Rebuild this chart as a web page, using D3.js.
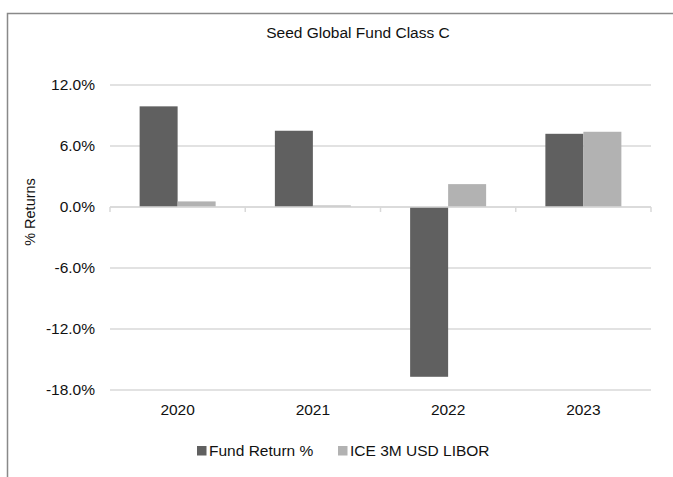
<!DOCTYPE html>
<html>
<head>
<meta charset="utf-8">
<script src="https://cdn.jsdelivr.net/npm/d3@7"></script>
<style>
  body { margin: 0; background: #fff; }
  svg { display: block; font-family: "Liberation Sans", Arial, sans-serif; }
</style>
</head>
<body>
<script>
// ---- data ----
var years = ["2020", "2021", "2022", "2023"];
var fundReturn = [9.9, 7.5, -16.7, 7.2];
var liborReturn = [0.55, 0.15, 2.25, 7.4];
var seriesNames = ["Fund Return %", "ICE 3M USD LIBOR"];
var yTicks = [-18, -12, -6, 0, 6, 12];

var colors = ["#606060", "#b2b2b2"];

var W = 673, H = 477;
var margin = {top: 85, right: 22, bottom: 87, left: 110},
    width = W - margin.left - margin.right,
    height = H - margin.top - margin.bottom;

var svg = d3.select("body").append("svg")
    .attr("width", W)
    .attr("height", H);

// outer frame (runs off the right and bottom edge)
svg.append("rect")
    .attr("x", 7.5).attr("y", 13.5)
    .attr("width", 700).attr("height", 500)
    .attr("fill", "none")
    .attr("stroke", "#898989")
    .attr("stroke-width", 1.5);

svg.append("text")
    .attr("x", 358).attr("y", 38)
    .attr("text-anchor", "middle")
    .attr("font-size", 15.5)
    .attr("fill", "#111")
    .text("Seed Global Fund Class C");

var g = svg.append("g")
    .attr("transform", "translate(" + margin.left + "," + margin.top + ")");

var x = d3.scaleBand().domain(years).range([0, width]).padding(0);
var x1 = d3.scaleBand().domain([0, 1]).range([0, 76]);
var y = d3.scaleLinear().domain([-18, 12]).range([height, 0]);

// gridlines
g.selectAll(".grid")
    .data(yTicks)
    .enter().append("line")
    .attr("x1", 0).attr("x2", width)
    .attr("y1", function(d) { return y(d); })
    .attr("y2", function(d) { return y(d); })
    .attr("stroke", "#d9d9d9")
    .attr("stroke-width", 1.5);

// y labels
g.selectAll(".ylab")
    .data(yTicks)
    .enter().append("text")
    .attr("x", -15)
    .attr("y", function(d) { return y(d); })
    .attr("dy", "0.35em")
    .attr("text-anchor", "end")
    .attr("font-size", 15.5)
    .attr("fill", "#111")
    .text(function(d) { return d.toFixed(1) + "%"; });

// bars
var rows = years.map(function(yr, i) {
  return {year: yr, vals: [fundReturn[i], liborReturn[i]]};
});

var grp = g.selectAll(".yr")
    .data(rows)
    .enter().append("g")
    .attr("transform", function(d) {
      return "translate(" + (x(d.year) + (x.bandwidth() - 76) / 2) + ",0)";
    });

grp.selectAll("rect")
    .data(function(d) { return d.vals; })
    .enter().append("rect")
    .attr("x", function(d, i) { return x1(i); })
    .attr("width", x1.bandwidth())
    .attr("y", function(d) { return y(Math.max(0, d)); })
    .attr("height", function(d) { return Math.abs(y(d) - y(0)); })
    .attr("fill", function(d, i) { return colors[i]; });

// zero axis with ticks between categories
g.append("line")
    .attr("x1", 0).attr("x2", width)
    .attr("y1", y(0)).attr("y2", y(0))
    .attr("stroke", "#d9d9d9")
    .attr("stroke-width", 1.5);

g.selectAll(".tick")
    .data(d3.range(years.length + 1))
    .enter().append("line")
    .attr("x1", function(i) { return i * x.step(); })
    .attr("x2", function(i) { return i * x.step(); })
    .attr("y1", y(0)).attr("y2", y(0) + 5)
    .attr("stroke", "#d9d9d9")
    .attr("stroke-width", 1.5);

// x labels
g.selectAll(".xlab")
    .data(years)
    .enter().append("text")
    .attr("x", function(d) { return x(d) + x.bandwidth() / 2; })
    .attr("y", height + 25)
    .attr("text-anchor", "middle")
    .attr("font-size", 15.5)
    .attr("fill", "#111")
    .text(function(d) { return d; });

// y axis title
svg.append("text")
    .attr("transform", "translate(35,212) rotate(-90)")
    .attr("text-anchor", "middle")
    .attr("font-size", 14.5)
    .attr("fill", "#111")
    .text("% Returns");

// legend
var legX = [197, 338];
var leg = svg.selectAll(".leg")
    .data(seriesNames)
    .enter().append("g")
    .attr("transform", function(d, i) { return "translate(" + legX[i] + ",446)"; });

leg.append("rect")
    .attr("width", 9.5).attr("height", 9.5)
    .attr("fill", function(d, i) { return colors[i]; });

leg.append("text")
    .attr("x", 12).attr("y", 10)
    .attr("font-size", 15.5)
    .attr("fill", "#111")
    .text(function(d) { return d; });
</script>
</body>
</html>
